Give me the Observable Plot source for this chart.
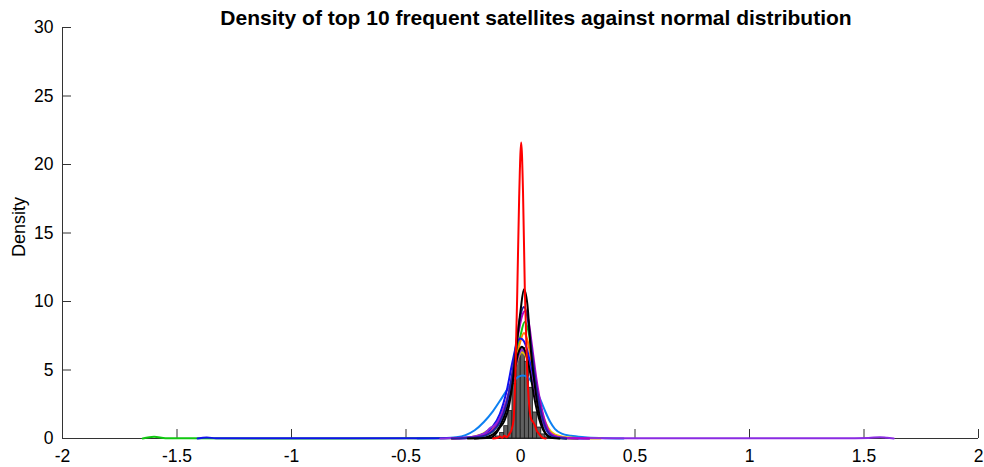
<!DOCTYPE html>
<html>
<head>
<meta charset="utf-8">
<script src="https://cdn.jsdelivr.net/npm/d3@7"></script>
<script src="https://cdn.jsdelivr.net/npm/@observablehq/plot@0.6"></script>
<style>
  html, body { margin: 0; padding: 0; background: #fff; }
  #wrap { position: relative; width: 984px; height: 467px; font-family: "Liberation Sans", Arial, Helvetica, sans-serif; }
  #title { position: absolute; top: 5px; left: 536px; transform: translateX(-50%); white-space: nowrap;
           font-weight: bold; font-size: 21px; line-height: 26px; color: #000; z-index: 2; }
</style>
</head>
<body>
<div id="wrap"><div id="title">Density of top 10 frequent satellites against normal distribution</div></div>
<script>
// ---------- data ----------
const xTicks = [-2, -1.5, -1, -0.5, 0, 0.5, 1, 1.5, 2];
const yTicks = [0, 5, 10, 15, 20, 25, 30];

// histogram (normal reference sample)
const binStart = [-0.125, -0.107, -0.089, -0.071, -0.053, -0.035, -0.017, 0.001, 0.019, 0.037, 0.055, 0.073, 0.091, 0.109];
const binEnd   = [-0.107, -0.089, -0.071, -0.053, -0.035, -0.017, 0.001, 0.019, 0.037, 0.055, 0.073, 0.091, 0.109, 0.127];
const binDensity = [0.05, 0.15, 0.4, 0.9, 2.0, 4.0, 6.0, 6.6, 5.6, 3.7, 1.9, 0.8, 0.3, 0.08];

// density curves: [x, density]
const satLightBlue = [[-0.45,0],[-0.35,0.03],[-0.28,0.1],[-0.24,0.25],[-0.2,0.6],[-0.16,1.2],[-0.12,2.0],[-0.08,3.0],[-0.04,4.0],[-0.01,4.5],[0.01,4.6],[0.03,4.5],[0.05,4.1],[0.07,3.5],[0.09,2.7],[0.11,1.9],[0.13,1.2],[0.15,0.7],[0.18,0.35],[0.22,0.2],[0.28,0.1],[0.35,0.04],[0.45,0]];
const satYellow = [[-0.3,0],[-0.22,0.1],[-0.16,0.4],[-0.12,0.9],[-0.09,1.6],[-0.06,2.8],[-0.03,4.6],[-0.01,5.9],[0.005,6.3],[0.02,6.1],[0.04,5.3],[0.06,4.1],[0.08,2.8],[0.1,1.6],[0.12,0.8],[0.15,0.3],[0.2,0.1],[0.28,0.02],[0.35,0]];
const satViolet = [[-0.35,0],[-0.3,0.03],[-0.22,0.1],[-0.16,0.35],[-0.13,0.8],[-0.11,1.0],[-0.09,1.5],[-0.06,2.8],[-0.03,4.6],[-0.01,6.0],[0.008,6.5],[0.025,6.1],[0.045,4.8],[0.065,3.2],[0.085,1.8],[0.105,0.9],[0.13,0.35],[0.17,0.1],[0.25,0.03],[0.4,0.01],[0.6,0.01],[1.0,0.01],[1.4,0.01],[1.52,0.03],[1.57,0.1],[1.6,0.05],[1.63,0]];
const normalFit = [[-0.2,0],[-0.15,0.1],[-0.12,0.3],[-0.09,0.9],[-0.06,2.2],[-0.03,4.5],[-0.01,6.2],[0.005,6.7],[0.02,6.4],[0.04,5.0],[0.06,3.0],[0.08,1.5],[0.1,0.6],[0.12,0.2],[0.15,0.05],[0.2,0]];
const satBlue = [[-1.41,0],[-1.37,0.08],[-1.33,0.01],[-1.0,0.01],[-0.6,0.01],[-0.35,0.02],[-0.25,0.05],[-0.2,0.12],[-0.16,0.35],[-0.12,0.9],[-0.09,1.8],[-0.06,3.5],[-0.035,5.6],[-0.015,7.0],[0.0,7.3],[0.015,7.1],[0.03,6.4],[0.05,4.8],[0.07,3.0],[0.09,1.6],[0.11,0.7],[0.13,0.25],[0.16,0.08],[0.22,0.02],[0.3,0]];
const satOrange = [[-0.3,0],[-0.2,0.1],[-0.15,0.35],[-0.12,0.7],[-0.09,1.4],[-0.06,2.6],[-0.03,4.6],[-0.005,6.8],[0.015,7.7],[0.03,7.2],[0.05,5.4],[0.07,3.4],[0.09,1.8],[0.11,0.8],[0.14,0.25],[0.18,0.06],[0.25,0]];
const satGreen = [[-1.65,0],[-1.6,0.12],[-1.55,0.02],[-1.45,0.01],[-1.0,0.005],[-0.5,0.01],[-0.3,0.02],[-0.2,0.08],[-0.15,0.25],[-0.12,0.55],[-0.09,1.2],[-0.06,2.5],[-0.03,4.8],[0,7.5],[0.018,8.5],[0.035,7.8],[0.055,5.5],[0.075,3.2],[0.095,1.6],[0.115,0.6],[0.14,0.2],[0.18,0.05],[0.25,0]];
const satMagenta = [[-0.3,0],[-0.2,0.08],[-0.15,0.3],[-0.12,0.65],[-0.09,1.3],[-0.06,2.7],[-0.035,4.8],[-0.01,7.6],[0.008,9.0],[0.02,9.3],[0.035,8.6],[0.05,6.8],[0.07,4.3],[0.09,2.4],[0.11,1.1],[0.13,0.4],[0.16,0.12],[0.2,0.03],[0.3,0]];
const satNavy = [[-0.3,0],[-0.2,0.08],[-0.15,0.25],[-0.12,0.55],[-0.09,1.2],[-0.06,2.6],[-0.035,4.8],[-0.015,7.5],[0.0,9.0],[0.015,9.6],[0.03,8.9],[0.045,7.0],[0.065,4.3],[0.085,2.3],[0.105,1.0],[0.125,0.35],[0.15,0.1],[0.2,0]];
const satBlack = [[-0.23,0],[-0.13,0.05],[-0.11,0.3],[-0.09,0.8],[-0.07,1.3],[-0.05,2.4],[-0.035,4.0],[-0.02,6.3],[0,9.3],[0.015,10.9],[0.03,9.8],[0.045,6.5],[0.06,4.2],[0.075,2.4],[0.09,1.2],[0.105,0.5],[0.12,0.15],[0.14,0.03],[0.17,0]];
const satRed = [[-0.12,0],[-0.1,0.05],[-0.09,0.15],[-0.08,0.05],[-0.07,0.2],[-0.06,0.1],[-0.05,0.3],[-0.04,0.6],[-0.03,1.4],[-0.022,5],[-0.014,10.8],[-0.006,17.5],[0.003,21.6],[0.011,18],[0.019,10.8],[0.029,5],[0.038,2.4],[0.047,1.4],[0.055,1.2],[0.062,1.0],[0.07,0.6],[0.08,0.35],[0.09,0.15],[0.1,0.03],[0.11,0]];

// drawing order (bottom to top)
const curveNames  = ["lightblue","yellow","green","orange","blue","violet","normal","magenta","navy","black","red"];
const curveColors = ["#0d80f2","#e8c000","#10c810","#ff7f00","#1010f0","#8a2be2","#000000","#b000c8","#2222a0","#000000","#ff0000"];
const curveData   = [satLightBlue, satYellow, satGreen, satOrange, satBlue, satViolet, normalFit, satMagenta, satNavy, satBlack, satRed];

// ---------- build ----------
const hist = binStart.map((s, i) => ({x1: s, x2: binEnd[i], y: binDensity[i]}));
const W = 984, H = 467, mL = 62, mR = 6, mT = 27, mB = 29;
const frameW = W - mL - mR, frameH = H - mT - mB;
const axisColor = "#333333";

const lineMarks = curveData.map((pts, i) =>
  Plot.line(pts, {x: d => d[0], y: d => d[1], stroke: curveColors[i], strokeWidth: 2, curve: "monotone-x"})
);

const chart = Plot.plot({
  width: W, height: H,
  marginLeft: mL, marginRight: mR, marginTop: mT, marginBottom: mB,
  style: {fontFamily: "'Liberation Sans', Arial, Helvetica, sans-serif", fontSize: "17.5px", color: "#262626", background: "transparent"},
  x: {domain: [-2, 2]},
  y: {domain: [0, 30]},
  marks: [
    Plot.ruleY([0], {stroke: axisColor, strokeWidth: 1}),
    Plot.ruleX([-2], {stroke: axisColor, strokeWidth: 1}),
    Plot.tickX(xTicks, {x: d => d, insetTop: frameH - 9, stroke: axisColor}),
    Plot.tickY(yTicks, {y: d => d, insetRight: frameW - 9, stroke: axisColor}),
    Plot.rectY(hist, {x1: "x1", x2: "x2", y: "y", fill: "#606060", stroke: "#1a1a1a", strokeWidth: 0.8}),
    ...lineMarks,
    Plot.axisX({ticks: xTicks, tickSize: 0, tickPadding: 11, tickFormat: d => String(d), label: null, fill: "#000"}),
    Plot.axisY({ticks: yTicks, tickSize: 0, tickPadding: 9, tickFormat: d => String(d), label: null, fill: "#000"}),
    Plot.text(["Density"], {frameAnchor: "left", dx: -43, dy: -6, rotate: -90, textAnchor: "middle", fontSize: 18, fill: "#000"})
  ]
});
document.getElementById("wrap").appendChild(chart);
chart.style.position = "absolute";
chart.style.left = "0";
chart.style.top = "0";
</script>
</body>
</html>
